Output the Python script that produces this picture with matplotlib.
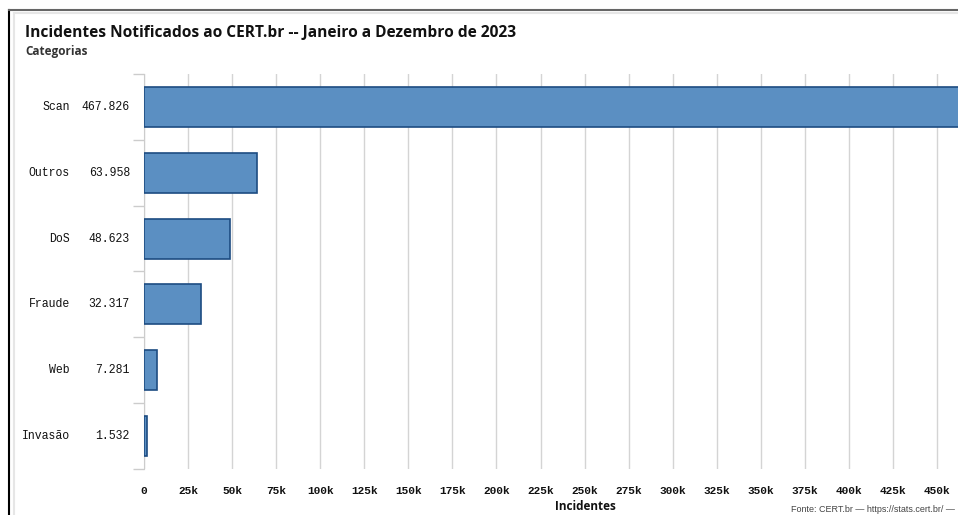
import matplotlib.pyplot as plt
from matplotlib.lines import Line2D
from matplotlib.ticker import FuncFormatter, FixedLocator

categories = ["Scan", "Outros", "DoS", "Fraude", "Web", "Invasão"]
incidents = [467826, 63958, 48623, 32317, 7281, 1532]
value_labels = ["467.826", "63.958", "48.623", "32.317", "7.281", "1.532"]
x_ticks = list(range(0, 450001, 25000))

W, H = 958, 515
fig = plt.figure(figsize=(W / 100, H / 100), dpi=100)

# axes placed by pixel positions from the reference
ax_left, ax_top, ax_bottom = 144, 74, 469
ax = fig.add_axes([ax_left / W, 1 - ax_bottom / H, 1 - ax_left / W, (ax_bottom - ax_top) / H])

y_pos = list(range(len(categories)))
ax.barh(y_pos, incidents, height=0.61, color="#5b8fc2",
        edgecolor="#1d4c82", linewidth=1.2, zorder=3)

ax.set_ylim(len(categories) - 0.5, -0.5)
ax.set_xlim(0, 461900)

ax.xaxis.set_major_locator(FixedLocator(x_ticks))
ax.xaxis.set_major_formatter(FuncFormatter(lambda v, p: "0" if v == 0 else f"{int(v / 1000)}k"))
ax.grid(axis="x", color="#d4d4d4", linewidth=1, zorder=0)
ax.tick_params(axis="x", length=0, pad=12)
for lab in ax.get_xticklabels():
    lab.set_fontfamily("Liberation Mono")
    lab.set_fontweight("bold")
    lab.set_fontsize(8)
    lab.set_color("#111111")

# category boundary ticks on the left
ax.set_yticks([])
ax.set_yticks([i - 0.5 for i in range(len(categories) + 1)], minor=True)
ax.tick_params(axis="y", which="minor", length=8, color="#cccccc", width=1)

for s in ["top", "right", "bottom"]:
    ax.spines[s].set_visible(False)
ax.spines["left"].set_color("#cccccc")

# category names and values
for i, (cat, val) in enumerate(zip(categories, value_labels)):
    ax.text(-74 / 793 * 450000, i, cat, ha="right", va="center",
            fontfamily="Liberation Mono", fontsize=8.3, color="#111111", clip_on=False)
    ax.text(-14 / 793 * 450000, i, val, ha="right", va="center",
            fontfamily="Liberation Mono", fontsize=8.3, color="#111111", clip_on=False)

fig.text(25 / W, 1 - 33 / H, "Incidentes Notificados ao CERT.br -- Janeiro a Dezembro de 2023",
         fontfamily="Open Sans", fontweight="bold", fontsize=11.2, color="#111111", va="center")
fig.text(25 / W, 1 - 52 / H, "Categorias", fontfamily="Open Sans", fontweight="bold",
         fontsize=8.5, color="#333333", va="center")
fig.text(585 / W, 1 - 507 / H, "Incidentes", fontfamily="Open Sans", fontweight="bold",
         fontsize=8.5, color="#111111", ha="center", va="center")
fig.text(955 / W, 1 - 509 / H, "Fonte: CERT.br — https://stats.cert.br/ —",
         fontfamily="Liberation Sans", fontsize=6.5, color="#444444", ha="right", va="center")

# frame lines of the screenshot
fig.add_artist(Line2D([9 / W, 9 / W], [0, 1 - 10 / H], color="black", linewidth=1.5))
fig.add_artist(Line2D([14 / W, 14 / W], [0, 1 - 13 / H], color="#e6e6e6", linewidth=1.5))
fig.add_artist(Line2D([9 / W, 1], [1 - 10 / H, 1 - 10 / H], color="#666666", linewidth=1.5))
fig.add_artist(Line2D([14 / W, 1], [1 - 13 / H, 1 - 13 / H], color="#e6e6e6", linewidth=1.5))

fig.savefig("out.png", dpi=100)
